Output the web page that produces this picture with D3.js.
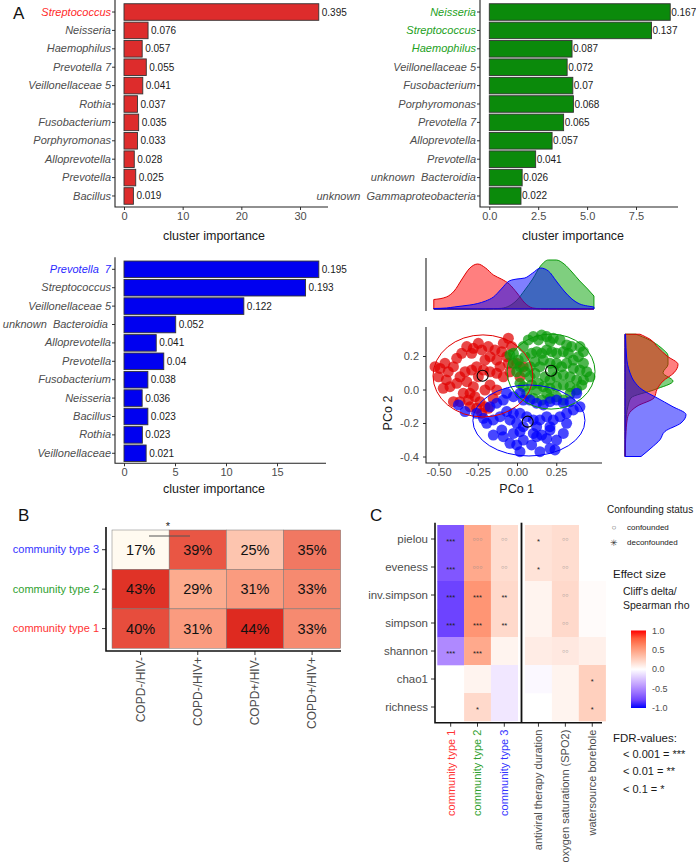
<!DOCTYPE html>
<html>
<head>
<meta charset="utf-8">
<script src="https://cdn.jsdelivr.net/npm/d3@7"></script>
<style>
body { margin: 0; background: #fff; }
</style>
</head>
<body>
<svg id="fig" width="696" height="865"></svg>
<script>
// ---- panel A : cluster importance per community type ----
var ct1Taxa = ["Streptococcus", "Neisseria", "Haemophilus", "Prevotella 7", "Veillonellaceae 5", "Rothia",
    "Fusobacterium", "Porphyromonas", "Alloprevotella", "Prevotella", "Bacillus"];
var ct1Importance = [33.2, 4.1, 3.1, 3.8, 3.2, 2.3, 2.5, 2.3, 1.75, 2.0, 1.6];
var ct1Abundance = [0.395, 0.076, 0.057, 0.055, 0.041, 0.037, 0.035, 0.033, 0.028, 0.025, 0.019];

var ct2Taxa = ["Neisseria", "Streptococcus", "Haemophilus", "Veillonellaceae 5", "Fusobacterium", "Porphyromonas",
    "Prevotella 7", "Alloprevotella", "Prevotella", "unknown  Bacteroidia", "unknown  Gammaproteobacteria"];
var ct2Importance = [9.25, 8.29, 4.23, 3.98, 4.27, 4.3, 3.8, 3.21, 2.37, 1.68, 1.62];
var ct2Abundance = [0.167, 0.137, 0.087, 0.072, 0.07, 0.068, 0.065, 0.057, 0.041, 0.026, 0.022];

var ct3Taxa = ["Prevotella  7", "Streptococcus", "Veillonellaceae 5", "unknown  Bacteroidia ", "Alloprevotella",
    "Prevotella", "Fusobacterium", "Neisseria", "Bacillus", "Rothia", "Veillonellaceae"];
var ct3Importance = [19.1, 17.8, 11.75, 5.07, 3.16, 3.9, 2.34, 1.78, 2.34, 1.8, 2.17];
var ct3Abundance = [0.195, 0.193, 0.122, 0.052, 0.041, 0.04, 0.038, 0.036, 0.023, 0.023, 0.021];

var ct1Ticks = [0, 10, 20, 30];
var ct2Ticks = [0, 2.5, 5, 7.5];
var ct3Ticks = [0, 5, 10, 15];

// ---- PCoA ----
var ct1Points = [[-0.522,0.136],[-0.49,0.126],[-0.459,0.156],[-0.50,0.076],[-0.45,0.057],[-0.47,0.007],[-0.427,0.017],
    [-0.384,0.186],[-0.352,0.216],[-0.32,0.256],[-0.278,0.246],[-0.246,0.276],[-0.225,0.236],[-0.183,0.256],
    [-0.172,0.196],[-0.14,0.236],[-0.087,0.276],[-0.055,0.306],[-0.066,0.196],[-0.108,0.136],[-0.129,0.097],
    [-0.172,0.106],[-0.214,0.116],[-0.257,0.136],[-0.289,0.116],[-0.331,0.106],[-0.32,0.047],[-0.363,0.076],
    [-0.384,0.037],[-0.342,-0.023],[-0.299,-0.023],[-0.268,-0.043],[-0.236,-0.073],[-0.204,-0.103],[-0.225,-0.142],
    [-0.257,-0.112],[-0.31,-0.063],[-0.363,-0.073],[-0.405,-0.073],[-0.087,0.076],[-0.045,0.106],[-0.002,0.156],
    [0.019,0.076],[0.04,0.136],[-0.172,0.027],[-0.129,-0.003],[-0.204,-0.003],[-0.289,0.216],[-0.204,0.176],
    [-0.129,0.176],[-0.097,0.226],[-0.246,0.076],[-0.405,0.136],[-0.438,0.106],[-0.151,-0.053],[-0.183,-0.112],
    [-0.299,-0.103],[-0.034,0.256],[-0.055,0.156],[-0.278,0.017]];
var ct2Points = [[-0.045,0.206],[-0.023,0.216],[0.008,0.176],[-0.002,0.106],[0.019,0.136],[0.051,0.196],[0.04,0.256],
    [0.072,0.296],[0.104,0.316],[0.136,0.296],[0.157,0.325],[0.189,0.316],[0.21,0.286],[0.231,0.306],[0.274,0.296],
    [0.316,0.266],[0.348,0.256],[0.401,0.256],[0.423,0.226],[0.391,0.196],[0.359,0.176],[0.327,0.216],[0.295,0.226],
    [0.252,0.216],[0.221,0.226],[0.189,0.236],[0.157,0.216],[0.125,0.226],[0.093,0.216],[0.114,0.166],[0.083,0.136],
    [0.051,0.106],[0.083,0.076],[0.114,0.097],[0.146,0.136],[0.168,0.176],[0.21,0.156],[0.252,0.156],[0.284,0.136],
    [0.316,0.156],[0.359,0.126],[0.401,0.116],[0.444,0.106],[0.465,0.076],[0.423,0.057],[0.38,0.057],[0.338,0.076],
    [0.295,0.087],[0.252,0.076],[0.21,0.057],[0.178,0.076],[0.136,0.037],[0.093,0.027],[0.125,-0.003],[0.168,0.017],
    [0.21,0.007],[0.252,0.017],[0.295,0.027],[0.338,0.017],[0.38,-0.003],[0.412,0.027],[0.019,0.037],[0.062,-0.023],
    [0.104,-0.053],[0.157,-0.063],[0.21,-0.053],[0.252,-0.043],[0.295,-0.063],[0.338,-0.023],[0.189,-0.023],
    [-0.023,0.156],[0.423,0.156],[0.231,0.116],[0.04,0.017]];
var ct3Points = [[-0.373,-0.092],[-0.331,-0.132],[-0.257,-0.142],[-0.172,-0.103],[-0.129,-0.082],[-0.087,-0.063],
    [-0.066,-0.023],[-0.023,-0.043],[0.019,-0.023],[0.04,-0.063],[0.083,-0.063],[0.125,-0.082],[0.168,-0.092],
    [0.21,-0.073],[0.252,-0.063],[0.295,-0.082],[0.338,-0.073],[0.38,-0.023],[0.401,-0.103],[0.359,-0.122],
    [0.316,-0.142],[0.274,-0.162],[0.231,-0.182],[0.189,-0.162],[0.146,-0.182],[0.104,-0.182],[0.062,-0.162],
    [0.019,-0.142],[-0.023,-0.142],[-0.066,-0.132],[-0.108,-0.162],[-0.151,-0.182],[-0.193,-0.202],[-0.214,-0.172],
    [-0.045,-0.182],[-0.002,-0.202],[0.04,-0.222],[0.125,-0.222],[0.21,-0.222],[0.316,-0.202],[-0.151,-0.272],
    [-0.087,-0.282],[-0.023,-0.262],[-0.002,-0.331],[0.019,-0.371],[0.093,-0.331],[0.125,-0.282],[0.157,-0.272],
    [0.189,-0.292],[0.21,-0.351],[0.242,-0.361],[0.252,-0.302],[0.146,-0.371],[0.104,-0.262],[0.04,-0.302],
    [-0.045,-0.321],[-0.097,-0.242],[0.019,-0.252],[0.21,-0.242],[0.295,-0.262]];
// centroid [pco1, pco2] and ellipse radii [pco1, pco2]
var centroids = [[-0.219, 0.082], [0.217, 0.112], [0.068, -0.192]];
var ellipseCentres = [[-0.217, 0.081], [0.217, 0.107], [0.076, -0.185]];
var ellipseRadii = [[0.318, 0.245], [0.28, 0.224], [0.357, 0.212]];

// marginal densities
var topGrid = [-0.53, -0.45, -0.40, -0.35, -0.30, -0.25, -0.20, -0.15, -0.10, -0.05, 0.00, 0.05, 0.10, 0.15,
    0.20, 0.25, 0.30, 0.35, 0.40, 0.45, 0.49];
var ct1TopDensity = [0.95, 1.2, 1.8, 3.0, 4.1, 4.5, 4.1, 3.4, 3.0, 2.5, 1.6, 0.6, 0.1, 0.02, 0, 0, 0, 0, 0, 0, 0];
var ct2TopDensity = [0, 0, 0, 0, 0, 0, 0, 0.03, 0.07, 0.3, 0.9, 1.9, 3.0, 4.3, 4.9, 4.9, 4.5, 3.7, 2.8, 2.0, 1.3];
var ct3TopDensity = [0.05, 0.1, 0.2, 0.3, 0.4, 0.55, 0.8, 1.2, 2.0, 2.8, 3.0, 3.1, 3.6, 4.1, 3.8, 2.8, 1.8, 1.0, 0.5, 0.3, 0.2];
var sideGrid = [0.33, 0.30, 0.25, 0.20, 0.15, 0.10, 0.05, 0.00, -0.05, -0.10, -0.15, -0.20, -0.25, -0.30, -0.35, -0.40];
var ct1SideDensity = [1.5, 2.5, 3.3, 4.2, 5.3, 4.9, 3.8, 3.2, 2.9, 1.2, 0.35, 0.17, 0.1, 0.06, 0.04, 0.03];
var ct2SideDensity = [1.1, 2.3, 3.6, 4.3, 4.3, 3.8, 4.8, 3.0, 0.6, 0.3, 0.15, 0.1, 0.06, 0.04, 0.03, 0.02];
var ct3SideDensity = [0.05, 0.07, 0.1, 0.15, 0.25, 0.5, 0.9, 1.7, 3.2, 4.7, 6.1, 5.6, 4.0, 3.5, 2.6, 1.6];

// ---- panel B ----
var hivGroups = ["COPD-/HIV-", "COPD-/HIV+", "COPD+/HIV-", "COPD+/HIV+"];
var communityTypes = ["community type 3", "community type 2", "community type 1"];
var pctType3 = [17, 39, 25, 35];
var pctType2 = [43, 29, 31, 33];
var pctType1 = [40, 31, 44, 33];

// ---- panel C ----
var diversityIdx = ["pielou", "eveness", "inv.simpson", "simpson", "shannon", "chao1", "richness"];
var ctCols = ["community type 1", "community type 2", "community type 3"];
var clinCols = ["antiviral therapy duration", "oxygen saturationn (SPO2)", "watersource borehole"];
var effectSize = [
    [-0.72, 0.45, 0.18, 0.15, 0.18, null],
    [-0.72, 0.45, 0.18, 0.15, 0.18, null],
    [-0.8, 0.55, 0.2, 0.06, 0.2, 0.02],
    [-0.8, 0.55, 0.2, 0.06, 0.2, 0.02],
    [-0.5, 0.45, 0.06, 0.1, 0.12, 0.08],
    [null, 0.06, -0.1, -0.03, 0.06, 0.25],
    [null, 0.2, -0.1, null, 0.06, 0.25]
];
// "*" = deconfounded FDR level, "o" = confounded
var fdrMarks = [
    ["***", "ooo", "oo", "*", "oo", ""],
    ["***", "ooo", "oo", "*", "oo", ""],
    ["***", "***", "**", "", "oo", ""],
    ["***", "***", "**", "", "oo", ""],
    ["***", "***", "", "", "oo", ""],
    ["", "", "", "", "", "*"],
    ["", "*", "", "", "", "*"]
];
var legendTicks = [1, 0.5, 0, -0.5, -1];

var svg = d3.select("#fig");
var FONT = '"Liberation Sans", Arial, Helvetica, sans-serif';
var GREY = "#4d4d4d", INK = "#1a1a1a";

function styleAxis(g, size) {
    g.select(".domain").remove();
    g.attr("font-family", FONT).attr("font-size", size);
    g.selectAll(".tick line").attr("stroke", "#333");
    g.selectAll(".tick text").attr("fill", GREY);
}

function label(x, y, txt, size, color, anchor) {
    return svg.append("text").attr("x", x).attr("y", y).text(txt)
        .attr("font-family", FONT).attr("font-size", size)
        .attr("fill", color || INK).attr("text-anchor", anchor || "start");
}

function barChart(taxa, importance, abundance, marked, ticks, fmt, fill, markColor, box) {
    var g = svg.append("g");
    var x = d3.scaleLinear().domain(box.xDomain).range(box.xRange);
    var y = d3.scaleBand().domain(taxa).range(box.yRange).padding(0.1);

    g.selectAll("rect").data(taxa).join("rect")
        .attr("x", x(0)).attr("y", function (d) { return y(d); })
        .attr("width", function (d, i) { return x(importance[i]) - x(0); })
        .attr("height", y.bandwidth())
        .attr("fill", fill).attr("stroke", "#333").attr("stroke-width", 0.9);

    g.selectAll("text.val").data(taxa).join("text").attr("class", "val")
        .attr("x", function (d, i) { return x(importance[i]) + box.gap; })
        .attr("y", function (d) { return y(d) + y.bandwidth() / 2; })
        .attr("dy", "0.35em")
        .attr("font-family", FONT).attr("font-size", 10).attr("fill", INK)
        .text(function (d, i) { return abundance[i]; });

    var ya = g.append("g").attr("transform", "translate(" + box.axisX + ",0)")
        .call(d3.axisLeft(y).tickSize(3).tickPadding(1));
    styleAxis(ya, 11);
    ya.selectAll(".tick text").attr("font-style", "italic").style("white-space", "pre")
        .attr("fill", function (d, i) { return i < marked ? markColor : GREY; });

    var xa = g.append("g").attr("transform", "translate(0," + box.axisY + ")")
        .call(d3.axisBottom(x).tickValues(ticks).tickFormat(fmt).tickSize(3).tickPadding(2));
    styleAxis(xa, 11);

    g.append("path")
        .attr("d", "M" + box.axisX + "," + (box.yRange[0] - 2) + "V" + box.axisY + "H" + box.xEnd)
        .attr("fill", "none").attr("stroke", "#222").attr("stroke-width", 1.1);

    label(box.titleX, box.titleY, "cluster importance", 12.5, INK, "middle");
}

barChart(ct1Taxa, ct1Importance, ct1Abundance, 1, ct1Ticks, d3.format("d"), "#dd2c2c", "#ff2a2a",
    {xDomain: [0, 30], xRange: [124, 300], yRange: [1.9, 206.1], axisX: 115, axisY: 207, xEnd: 328,
     gap: 3, titleX: 214, titleY: 239.5});
barChart(ct2Taxa, ct2Importance, ct2Abundance, 3, ct2Ticks, d3.format(".1f"), "#0b8a0b", "#22a022",
    {xDomain: [0, 7.5], xRange: [489.3, 636], yRange: [1.9, 206.1], axisX: 480, axisY: 207, xEnd: 678,
     gap: 1, titleX: 573, titleY: 239.5});
barChart(ct3Taxa, ct3Importance, ct3Abundance, 1, ct3Ticks, d3.format("d"), "#0000f0", "#2a2aff",
    {xDomain: [0, 15], xRange: [124, 277], yRange: [259.2, 463.4], axisX: 115, axisY: 463.3, xEnd: 326,
     gap: 3, titleX: 214, titleY: 492.5});

label(13, 19, "A", 17, "#111");

// ---- PCoA scatter with marginal densities ----
var pcoX = d3.scaleLinear().domain([-0.5, 0.25]).range([438.5, 556.25]);
var pcoY = d3.scaleLinear().domain([-0.4, 0.2]).range([456.5, 356]);
var clusterPoints = [ct1Points, ct2Points, ct3Points];
var pointColor = ["#e00000", "#0a9a0a", "#0000ff"];
var lineColor = ["#e00000", "#0a9a0a", "#0000ff"];

var scat = svg.append("g");
clusterPoints.forEach(function (pts, k) {
    scat.append("g").selectAll("circle").data(pts).join("circle")
        .attr("cx", function (d) { return pcoX(d[0]); })
        .attr("cy", function (d) { return pcoY(d[1]); })
        .attr("r", 5.5)
        .attr("fill", pointColor[k]).attr("fill-opacity", 0.72);
});
ellipseCentres.forEach(function (c, k) {
    scat.append("ellipse")
        .attr("cx", pcoX(c[0])).attr("cy", pcoY(c[1]))
        .attr("rx", pcoX(c[0] + ellipseRadii[k][0]) - pcoX(c[0]))
        .attr("ry", pcoY(c[1]) - pcoY(c[1] + ellipseRadii[k][1]))
        .attr("fill", "none").attr("stroke", lineColor[k]).attr("stroke-width", 1);
});
scat.selectAll("circle.centroid").data(centroids).join("circle").attr("class", "centroid")
    .attr("cx", function (d) { return pcoX(d[0]); })
    .attr("cy", function (d) { return pcoY(d[1]); })
    .attr("r", 5.5).attr("fill", "none").attr("stroke", "#000").attr("stroke-width", 1.1);

var pxa = svg.append("g").attr("transform", "translate(0,463)")
    .call(d3.axisBottom(pcoX).tickValues([-0.5, -0.25, 0, 0.25])
        .tickFormat(function (d) { return d.toFixed(2); }).tickSize(3).tickPadding(2));
styleAxis(pxa, 11);
var pya = svg.append("g").attr("transform", "translate(426,0)")
    .call(d3.axisLeft(pcoY).tickValues([-0.4, -0.2, 0, 0.2])
        .tickFormat(function (d) { return d.toFixed(1); }).tickSize(3).tickPadding(4));
styleAxis(pya, 11);
svg.append("path").attr("d", "M426,327V463H602")
    .attr("fill", "none").attr("stroke", "#222").attr("stroke-width", 1.1);
label(516.7, 492.5, "PCo 1", 12.5, INK, "middle");
svg.append("text").attr("transform", "translate(392,413) rotate(-90)")
    .attr("text-anchor", "middle").attr("font-family", FONT).attr("font-size", 12.5)
    .attr("fill", INK).text("PCo 2");

var dTop = d3.scaleLinear().domain([0, 5.1]).range([309, 258]);
var dSide = d3.scaleLinear().domain([0, 6.5]).range([625, 690]);
var topDens = [ct1TopDensity, ct2TopDensity, ct3TopDensity];
var sideDens = [ct1SideDensity, ct2SideDensity, ct3SideDensity];
var densFill = ["#ff0000", "#00a000", "#0000ff"];
var densOrder = [1, 0, 2];

var topArea = d3.area()
    .x(function (d, i) { return pcoX(topGrid[i]); })
    .y0(dTop(0)).y1(function (d) { return dTop(d); })
    .curve(d3.curveMonotoneX);
var sideArea = d3.area()
    .y(function (d, i) { return pcoY(sideGrid[i]); })
    .x0(dSide(0)).x1(function (d) { return dSide(d); })
    .curve(d3.curveMonotoneY);
densOrder.forEach(function (k) {
    svg.append("path").attr("d", topArea(topDens[k]))
        .attr("fill", densFill[k]).attr("fill-opacity", 0.5)
        .attr("stroke", lineColor[k]).attr("stroke-width", 1);
    svg.append("path").attr("d", sideArea(sideDens[k]))
        .attr("fill", densFill[k]).attr("fill-opacity", 0.5)
        .attr("stroke", lineColor[k]).attr("stroke-width", 1);
});
svg.append("line").attr("x1", 426).attr("x2", 426).attr("y1", 258).attr("y2", 311)
    .attr("stroke", "#222").attr("stroke-width", 1.1);

// ---- panel B heatmap ----
var typeColor = {"community type 3": "#3333ff", "community type 2": "#2f9f2f", "community type 1": "#ff3333"};
var bx = d3.scaleBand().domain(hivGroups).range([112, 340.7]);
var by = d3.scaleBand().domain(communityTypes).range([530, 648.3]);
var heatB = d3.scaleLinear().domain([17, 30, 44]).range(["#fffaf0", "#fca486", "#de2a20"]);
var bRows = [pctType3, pctType2, pctType1];
var bCells = [];
bRows.forEach(function (row, r) {
    row.forEach(function (v, c) { bCells.push({type: communityTypes[r], grp: hivGroups[c], v: v}); });
});
var hb = svg.append("g");
hb.selectAll("rect").data(bCells).join("rect")
    .attr("x", function (d) { return bx(d.grp); })
    .attr("y", function (d) { return by(d.type); })
    .attr("width", bx.bandwidth()).attr("height", by.bandwidth())
    .attr("fill", function (d) { return heatB(d.v); })
    .attr("stroke", "#777").attr("stroke-width", 0.5);
hb.selectAll("text").data(bCells).join("text")
    .attr("x", function (d) { return bx(d.grp) + bx.bandwidth() / 2; })
    .attr("y", function (d) { return by(d.type) + by.bandwidth() / 2; })
    .attr("dy", "0.36em").attr("text-anchor", "middle")
    .attr("font-family", FONT).attr("font-size", 14.5).attr("fill", "#111")
    .text(function (d) { return d.v + "%"; });

var bya = svg.append("g").attr("transform", "translate(106,0)")
    .call(d3.axisLeft(by).tickSize(4).tickPadding(3));
styleAxis(bya, 11);
bya.selectAll(".tick text").attr("fill", function (d) { return typeColor[d]; });
var bxa = svg.append("g").attr("transform", "translate(0,651)")
    .call(d3.axisBottom(bx).tickSize(4).tickPadding(2));
styleAxis(bxa, 12);
bxa.selectAll(".tick text").attr("transform", "rotate(-90)")
    .attr("text-anchor", "end").attr("x", -6).attr("y", 0).attr("dy", "0.35em");
svg.append("path").attr("d", "M106,527V651H341")
    .attr("fill", "none").attr("stroke", "#111").attr("stroke-width", 1.6);
// significance bracket between the first two groups of type 3
svg.append("line").attr("x1", 149).attr("x2", 190).attr("y1", 536).attr("y2", 536)
    .attr("stroke", "#555").attr("stroke-width", 1);
label(168, 530, "*", 11, "#222", "middle");
label(18, 521, "B", 17, "#111");

// ---- panel C heatmap ----
var colorC = d3.scaleDiverging(d3.piecewise(d3.interpolateLab, ["blue", "white", "red"])).domain([-1, 0, 1]);
var cLeft = d3.scaleBand().domain(ctCols).range([437.3, 517.7]);
var cRight = d3.scaleBand().domain(clinCols).range([525, 605.7]);
var cy = d3.scaleBand().domain(diversityIdx).range([525, 721]);
var cCells = [];
effectSize.forEach(function (row, r) {
    row.forEach(function (v, c) {
        var x0 = c < 3 ? cLeft(ctCols[c]) : cRight(clinCols[c - 3]);
        cCells.push({row: diversityIdx[r], x0: x0, v: v, mark: fdrMarks[r][c]});
    });
});
var hc = svg.append("g");
hc.selectAll("rect").data(cCells.filter(function (d) { return d.v !== null; })).join("rect")
    .attr("x", function (d) { return d.x0; })
    .attr("y", function (d) { return cy(d.row); })
    .attr("width", cLeft.bandwidth() + 0.3).attr("height", cy.bandwidth() + 0.3)
    .attr("fill", function (d) { return colorC(d.v); });
hc.selectAll("text").data(cCells.filter(function (d) { return d.mark !== ""; })).join("text")
    .attr("x", function (d) { return d.x0 + cLeft.bandwidth() / 2; })
    .attr("y", function (d) {
        return cy(d.row) + cy.bandwidth() / 2 + (d.mark[0] === "*" ? 4.5 : 2);
    })
    .attr("text-anchor", "middle").attr("font-family", FONT)
    .attr("font-size", function (d) { return d.mark[0] === "*" ? 7.5 : 5.5; })
    .attr("fill", function (d) { return d.mark[0] === "*" ? "#222" : "#888"; })
    .text(function (d) { return d.mark[0] === "*" ? d.mark : d.mark.replace(/o/g, "\u25CB"); });

var cya = svg.append("g").attr("transform", "translate(435,0)")
    .call(d3.axisLeft(cy).tickSize(4).tickPadding(3));
styleAxis(cya, 11.5);
[cLeft, cRight].forEach(function (sc) {
    var a = svg.append("g").attr("transform", "translate(0,722.7)")
        .call(d3.axisBottom(sc).tickSize(4).tickPadding(2));
    styleAxis(a, 11);
    a.selectAll(".tick text").attr("transform", "rotate(-90)")
        .attr("text-anchor", "end").attr("x", -7).attr("y", 0).attr("dy", "0.35em")
        .attr("fill", function (d) {
            return d === "community type 1" ? "#ff3333" : d === "community type 2" ? "#2f9f2f"
                : d === "community type 3" ? "#3333ff" : GREY;
        });
});
svg.append("path").attr("d", "M435,522.7V722.7H602")
    .attr("fill", "none").attr("stroke", "#111").attr("stroke-width", 1.6);
svg.append("line").attr("x1", 521.5).attr("x2", 521.5).attr("y1", 522.7).attr("y2", 722.7)
    .attr("stroke", "#111").attr("stroke-width", 1.8);
label(370, 521, "C", 17, "#111");

// legend
label(607, 513, "Confounding status", 10, INK);
label(614, 530, "\u25CB", 8, "#555", "middle");
label(627, 530, "confounded", 8, INK);
label(614, 546, "\u2733", 9, "#333", "middle");
label(627, 545, "deconfounded", 8, INK);
label(613, 578, "Effect size", 11.5, INK);
label(623, 595, "Cliff's delta/", 10.5, INK);
label(623, 609, "Spearman rho", 10.5, INK);

var legY = d3.scaleLinear().domain([-1, 1]).range([708, 630.5]);
var grad = svg.append("defs").append("linearGradient").attr("id", "effgrad")
    .attr("x1", 0).attr("y1", 1).attr("x2", 0).attr("y2", 0);
d3.range(0, 1.0001, 0.1).forEach(function (t) {
    grad.append("stop").attr("offset", t).attr("stop-color", colorC(-1 + 2 * t));
});
svg.append("rect").attr("x", 631).attr("y", legY(1)).attr("width", 15)
    .attr("height", legY(-1) - legY(1)).attr("fill", "url(#effgrad)");
svg.selectAll("text.leg").data(legendTicks).join("text").attr("class", "leg")
    .attr("x", 652).attr("y", function (d) { return legY(d); }).attr("dy", "0.35em")
    .attr("font-family", FONT).attr("font-size", 9).attr("fill", GREY)
    .text(function (d) { return d.toFixed(1); });

label(613, 742, "FDR-values:", 11.5, INK);
label(623, 757.5, "< 0.001 = ***", 11, INK);
label(623, 775, "< 0.01 = **", 11, INK);
label(623, 792.5, "< 0.1 = *", 11, INK);
</script>
</body>
</html>
